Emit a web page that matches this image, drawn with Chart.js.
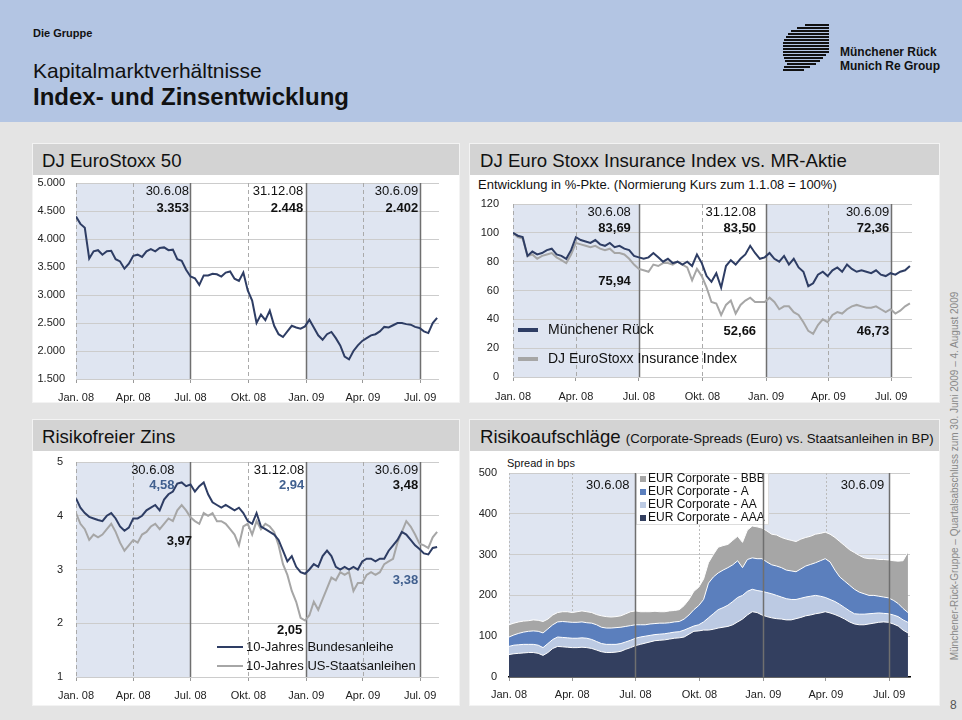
<!DOCTYPE html>
<html lang="de"><head><meta charset="utf-8">
<title>Index- und Zinsentwicklung</title>
<script src="https://cdn.jsdelivr.net/npm/chart.js@4.4.1/dist/chart.umd.min.js"></script>
<style>
html,body{margin:0;padding:0;}
body{width:962px;height:720px;background:#e4e4e4;position:relative;overflow:hidden;font-family:'Liberation Sans',Arial,sans-serif;color:#111;}
.hdr{position:absolute;left:0;top:0;width:962px;height:122px;background:#b3c5e3;}
.t{position:absolute;white-space:nowrap;line-height:1;}
.panel{position:absolute;background:#fff;box-sizing:border-box;border:1px solid #f3f3f3;}
.bar{position:absolute;left:0;top:0;right:0;height:31px;background:#d3d3d3;}
.ptitle{position:absolute;top:7px;font-size:18.6px;color:#111;white-space:nowrap;line-height:1.1;}
canvas{position:absolute;}
</style></head><body>
<div class="hdr"></div>
<div class="t" style="left:33px;top:28px;font-size:11px;font-weight:bold;">Die Gruppe</div>
<div class="t" style="left:33px;top:60px;font-size:21px;">Kapitalmarktverhältnisse</div>
<div class="t" style="left:33px;top:85px;font-size:24px;font-weight:bold;">Index- und Zinsentwicklung</div>
<svg style="position:absolute;left:780px;top:22px" width="54" height="54" viewBox="0 0 54 54">
<g stroke="#111" stroke-width="2">
<line x1="25" y1="3" x2="49" y2="3"/><line x1="17" y1="6" x2="49" y2="6"/><line x1="11" y1="9" x2="49" y2="9"/>
<line x1="8" y1="12" x2="49" y2="12"/><line x1="6" y1="15" x2="49" y2="15"/><line x1="4" y1="18" x2="49" y2="18"/>
<line x1="3" y1="21" x2="49" y2="21"/><line x1="3" y1="24" x2="49" y2="24"/><line x1="3" y1="27" x2="49" y2="27"/>
<line x1="3" y1="30" x2="49" y2="30"/><line x1="3" y1="33" x2="46" y2="33"/><line x1="4" y1="36" x2="43" y2="36"/>
<line x1="5" y1="39" x2="40" y2="39"/><line x1="7" y1="42" x2="36" y2="42"/><line x1="4" y1="45" x2="30" y2="45"/>
<line x1="3" y1="48" x2="24" y2="48"/>
</g></svg>
<div class="t" style="left:840px;top:46px;font-size:12px;font-weight:bold;">Münchener Rück</div>
<div class="t" style="left:840px;top:60px;font-size:12px;font-weight:bold;">Munich Re Group</div>

<div class="panel" style="left:32px;top:143px;width:428px;height:260px;"><div class="bar"></div><div class="ptitle" style="left:9px;">DJ EuroStoxx 50</div></div>
<div class="panel" style="left:469px;top:143px;width:471px;height:260px;"><div class="bar"></div><div class="ptitle" style="left:10px;">DJ Euro Stoxx Insurance Index vs. MR-Aktie</div></div>
<div class="panel" style="left:32px;top:419px;width:428px;height:287px;"><div class="bar"></div><div class="ptitle" style="left:9px;">Risikofreier Zins</div></div>
<div class="panel" style="left:469px;top:419px;width:471px;height:287px;"><div class="bar"></div><div class="ptitle" style="left:10px;">Risikoaufschläge <span style="font-size:13.2px">(Corporate-Spreads (Euro) vs. Staatsanleihen in BP)</span></div></div>

<div class="t" style="left:478px;top:178px;font-size:13px;color:#111;">Entwicklung in %-Pkte. (Normierung Kurs zum 1.1.08 = 100%)</div>
<div class="t" style="left:507px;top:458px;font-size:11px;color:#111;">Spread in bps</div>

<canvas id="c1" width="428" height="240" style="left:32px;top:163px;"></canvas>
<canvas id="c2" width="471" height="228" style="left:469px;top:175px;"></canvas>
<canvas id="c3" width="428" height="267" style="left:32px;top:439px;"></canvas>
<canvas id="c4" width="471" height="255" style="left:469px;top:451px;"></canvas>

<div class="t" style="left:755px;top:471px;width:400px;text-align:center;font-size:10px;color:#888;transform:rotate(-90deg);transform-origin:200px 5px;">Münchener-Rück-Gruppe – Quartalsabschluss zum 30. Juni 2009 – 4. August 2009</div>
<div class="t" style="left:950px;top:699px;font-size:12px;color:#555;">8</div>

<script>
// ---------- DATA ----------
const monthTickDays = [0, 91, 182, 274, 366, 456, 547];
const monthTickLabels = ['Jan. 08', 'Apr. 08', 'Jul. 08', 'Okt. 08', 'Jan. 09', 'Apr. 09', 'Jul. 09'];
const halfYearDays = [182, 366, 547];
const quarterDays = [0, 91, 274, 456];
const shadeRanges = [[0, 182], [366, 547]];
// weekly observations, days since 1.1.2008
const weekDays = Array.from({length: 83}, (_, i) => i * 7);

const refDates = ['30.6.08', '31.12.08', '30.6.09'];
const esxRef = ['3.353', '2.448', '2.402'];
const mrRef = ['83,69', '83,50', '72,36'];
const insRef = ['75,94', '52,66', '46,73'];
const bundRef = ['4,58', '2,94', '3,38'];
const usRef = ['3,97', '2,05', '3,48'];

const esx50 = [4400,4270,4200,3650,3780,3800,3720,3780,3790,3640,
3600,3470,3560,3700,3720,3680,3780,3820,3780,3840,
3850,3800,3810,3640,3610,3450,3330,3300,3180,3350,
3350,3380,3370,3330,3400,3420,3290,3250,3400,3080,
2900,2500,2650,2550,2720,2450,2300,2250,2350,2450,
2420,2400,2440,2560,2420,2280,2200,2300,2340,2230,
2100,1900,1850,2000,2100,2180,2230,2280,2300,2350,
2430,2420,2460,2500,2500,2480,2470,2430,2410,2350,
2320,2500,2590];

const muenchenerRueck = [100,98,97,84,87,85,86,88,89,85,
84,82,88,97,95,94,93,95,92,91,
93,90,91,89,88,84,83,82,83,86,
83,80,82,79,80,78,80,77,85,79,
70,66,72,62,77,81,78,82,85,91,
86,82,83,86,82,80,84,78,82,76,
73,63,65,71,73,70,74,76,73,78,
75,73,74,73,72,74,71,70,72,71,
73,74,77];

const insuranceIndex = [100,97,96,84,85,82,84,85,86,83,
81,79,85,93,92,91,90,91,89,88,
89,86,86,85,82,78,75,74,73,78,
77,79,79,78,80,78,76,67,75,70,
62,52,51,43,50,53,44,50,53,55,
52,52,52,55,52,47,49,49,45,43,
38,32,30,36,40,38,43,45,44,47,
49,50,49,48,48,49,47,45,47,44,
46,49,51];

const bund10y = [4.32,4.15,4.05,3.98,3.95,3.92,3.90,4.00,4.05,3.95,
3.80,3.72,3.78,3.95,3.95,4.00,4.10,4.15,4.20,4.10,
4.30,4.40,4.45,4.60,4.62,4.55,4.58,4.45,4.55,4.62,
4.40,4.25,4.20,4.15,4.20,4.15,4.10,4.15,4.05,3.90,
3.85,4.05,3.80,3.75,3.70,3.65,3.55,3.35,3.15,3.25,
3.05,2.95,2.92,3.00,3.10,3.05,3.25,3.35,3.25,3.05,
3.00,3.05,3.00,3.05,3.00,3.15,3.20,3.20,3.15,3.20,
3.20,3.35,3.45,3.55,3.70,3.65,3.55,3.45,3.38,3.30,
3.28,3.40,3.42];

const us10y = [4.05,3.85,3.75,3.55,3.65,3.60,3.65,3.75,3.85,3.70,
3.50,3.35,3.45,3.55,3.50,3.65,3.70,3.80,3.85,3.75,
3.85,3.95,3.90,4.10,4.20,4.10,3.97,3.90,3.85,4.05,
4.00,4.05,3.90,3.90,3.85,3.75,3.65,3.45,3.80,3.85,
3.65,3.90,3.75,3.85,3.80,3.70,3.45,3.10,2.90,2.60,
2.40,2.10,2.05,2.15,2.40,2.25,2.45,2.65,2.85,2.80,
2.95,2.90,2.95,2.60,2.75,2.75,2.90,2.95,2.90,2.95,
3.10,3.15,3.20,3.50,3.70,3.90,3.80,3.65,3.48,3.45,
3.40,3.60,3.70];

const spreadAAA = [55,57,58,59,60,60,58,53,60,70,
75,74,73,72,72,73,72,70,66,62,
60,60,61,63,68,72,77,80,83,86,
89,90,91,93,95,96,98,105,112,113,
115,115,117,120,122,124,128,135,142,152,
160,158,152,148,145,143,142,140,140,143,
146,150,152,155,157,160,157,153,148,142,
135,130,128,128,130,132,134,135,134,130,
125,115,108];
const spreadAA = [75,78,79,80,80,80,78,72,82,92,
98,97,96,95,95,96,95,92,87,82,
80,80,80,82,86,90,95,98,100,102,
104,105,106,108,110,111,115,120,125,128,
135,145,155,165,170,176,185,195,200,210,
215,212,210,207,204,200,196,192,190,190,
193,196,198,200,198,195,190,185,178,170,
162,155,154,154,155,156,157,156,155,152,
148,140,134];
const spreadA = [98,103,107,110,112,113,112,108,118,128,
135,136,135,134,134,135,133,132,128,122,
120,120,121,122,124,126,128,128,128,130,
131,132,132,133,135,136,142,152,165,175,
190,230,245,255,262,268,275,285,268,288,
292,290,290,282,275,272,268,262,260,258,
265,272,276,280,285,290,282,262,245,235,
225,215,208,204,200,200,198,196,194,188,
180,168,158];
const spreadBBB = [128,132,135,137,138,140,139,136,142,152,
158,160,160,158,160,162,160,158,153,150,
148,147,148,150,155,160,162,160,160,160,
161,160,160,162,163,165,175,190,210,220,
240,280,300,318,322,325,335,345,330,360,
370,368,365,358,350,348,342,338,335,332,
338,342,345,350,352,355,350,342,332,322,
312,305,298,292,290,290,288,288,287,285,
284,285,306];

// ---------- STYLE ----------
const FONT = "'Liberation Sans', Arial, sans-serif";
const NAVY = '#2e3d64', GREY = '#a6a6a6', SHADE = '#dfe5f1', BLUE_TXT = '#41608f';
Chart.defaults.font.family = FONT;
Chart.defaults.font.size = 11;
Chart.defaults.color = '#222';
Chart.defaults.animation = false;

const pts = arr => weekDays.map((d, i) => ({x: d, y: arr[i]}));
const fmtThousands = v => String(v).replace(/\B(?=(\d{3})+(?!\d))/g, '.');

function vlines(chart, days, color, dash, width) {
  const {ctx, chartArea: a, scales: {x}} = chart;
  ctx.save();
  ctx.strokeStyle = color; ctx.lineWidth = width; ctx.setLineDash(dash);
  days.forEach(d => {
    const px = Math.round(x.getPixelForValue(d)) + 0.5;
    ctx.beginPath(); ctx.moveTo(px, a.top); ctx.lineTo(px, a.bottom); ctx.stroke();
  });
  ctx.restore();
}
function txt(ctx, s, x, y, size, bold, color, align) {
  ctx.font = (bold ? 'bold ' : '') + size + 'px ' + FONT;
  ctx.fillStyle = color; ctx.textAlign = align || 'right'; ctx.textBaseline = 'middle';
  ctx.fillText(s, x, y);
}

const decor = {
  id: 'decor',
  beforeDraw(chart, args, o) {
    const {ctx, chartArea: a, scales: {x}} = chart;
    ctx.save(); ctx.fillStyle = SHADE;
    shadeRanges.forEach(([s, e]) => {
      const x1 = x.getPixelForValue(s), x2 = x.getPixelForValue(e);
      ctx.fillRect(x1, a.top, x2 - x1, a.bottom - a.top);
    });
    ctx.restore();
  },
  beforeDatasetsDraw(chart, args, o) {
    vlines(chart, quarterDays, o.dashColor, o.dash, 1);
    if (!o.solidOnTop) vlines(chart, halfYearDays, '#6f6f6f', [], 1.5);
  },
  afterDatasetsDraw(chart, args, o) {
    const {ctx, chartArea: a, scales: {x}} = chart;
    if (o.box) {
      ctx.save(); ctx.fillStyle = '#fff'; ctx.strokeStyle = '#dddddd'; ctx.lineWidth = 1;
      ctx.fillRect(a.left + o.box.x, a.top + o.box.y, o.box.w, o.box.h);
      ctx.strokeRect(a.left + o.box.x + 0.5, a.top + o.box.y + 0.5, o.box.w, o.box.h);
      const ds = chart.data.datasets.slice().reverse();
      ds.forEach((d, i) => {
        ctx.fillStyle = d.backgroundColor;
        ctx.fillRect(a.left + o.box.mx, a.top + o.box.rows[i] - 3, 6, 6);
        txt(ctx, d.label, a.left + o.box.tx, a.top + o.box.rows[i], o.box.size, false, '#111', 'left');
      });
      ctx.restore();
    }
    if (o.solidOnTop) vlines(chart, halfYearDays, '#6f6f6f', [], 1.5);
    ctx.save();
    (o.labels || []).forEach(l => {
      txt(ctx, l.text, x.getPixelForValue(l.day) + l.dx, a.top + l.dy, 13, l.bold, l.color || '#111');
    });
    if (o.lineLegend) {
      const L = o.lineLegend;
      chart.data.datasets.forEach((d, i) => {
        ctx.strokeStyle = d.borderColor; ctx.lineWidth = L.lw;
        ctx.beginPath(); ctx.moveTo(a.left + L.x0, a.top + L.rows[i]); ctx.lineTo(a.left + L.x1, a.top + L.rows[i]); ctx.stroke();
        txt(ctx, d.label, a.left + L.tx, a.top + L.rows[i], L.size, false, '#111', 'left');
      });
    }
    ctx.restore();
  }
};
Chart.register(decor);

function xScale(h, pad, border) {
  return {
    type: 'linear', min: 0, max: 577,
    afterBuildTicks: s => { s.ticks = monthTickDays.map(v => ({value: v})); },
    afterFit: s => { s.height = h; },
    ticks: {autoSkip: false, maxRotation: 0, padding: pad, color: '#222', font: {size: 11},
      callback: v => { const k = monthTickDays.indexOf(v); return k >= 0 ? monthTickLabels[k] : ''; }},
    grid: {drawOnChartArea: false, drawTicks: true, tickLength: 4, tickColor: '#999'},
    border: border ? {display: true, color: '#000', width: 1.5} : {display: false}
  };
}
function yScale(min, max, step, w, pad, cb) {
  return {
    min, max,
    afterFit: s => { s.width = w; },
    ticks: {stepSize: step, padding: pad, color: '#222', font: {size: 11}, callback: cb || (v => String(v))},
    grid: {color: '#cccccc', lineWidth: 1, drawTicks: false},
    border: {display: false}
  };
}
const basePlugins = {legend: {display: false}, tooltip: {enabled: false}};
const lineDs = (label, arr, color) => ({label, data: pts(arr), borderColor: color, backgroundColor: color, borderWidth: 2, pointRadius: 0, tension: 0, fill: false});

// Chart 1
new Chart(document.getElementById('c1'), {
  type: 'line',
  data: {datasets: [lineDs('DJ EuroStoxx 50', esx50, NAVY)]},
  options: {
    responsive: false, animation: false,
    layout: {padding: {left: 0, top: 20, right: 21, bottom: 0}},
    scales: {x: xScale(24, 8), y: yScale(1500, 5000, 500, 44, 11, fmtThousands)},
    plugins: {...basePlugins, decor: {dashColor: '#aaaaaa', dash: [4, 3], labels: [
      {day: 182, dx: -1.5, dy: 8.7, text: refDates[0]}, {day: 182, dx: -1.5, dy: 25.3, text: esxRef[0], bold: true},
      {day: 366, dx: -3, dy: 8.7, text: refDates[1]}, {day: 366, dx: -3, dy: 25.3, text: esxRef[1], bold: true},
      {day: 547, dx: -2, dy: 8.7, text: refDates[2]}, {day: 547, dx: -2, dy: 25.3, text: esxRef[2], bold: true}
    ]}}
  }
});

// Chart 2
new Chart(document.getElementById('c2'), {
  type: 'line',
  data: {datasets: [lineDs('Münchener Rück', muenchenerRueck, NAVY), lineDs('DJ EuroStoxx Insurance Index', insuranceIndex, GREY)]},
  options: {
    responsive: false, animation: false,
    layout: {padding: {left: 0, top: 29, right: 28, bottom: 0}},
    scales: {x: xScale(26, 9), y: yScale(0, 120, 20, 44, 14)},
    plugins: {...basePlugins, decor: {dashColor: '#aaaaaa', dash: [4, 3],
      lineLegend: {x0: 5, x1: 25, tx: 35, rows: [126, 155], lw: 4, size: 14},
      labels: [
      {day: 182, dx: -8, dy: 8, text: refDates[0]}, {day: 182, dx: -8, dy: 24.7, text: mrRef[0], bold: true}, {day: 182, dx: -8, dy: 77.7, text: insRef[0], bold: true},
      {day: 366, dx: -10, dy: 8, text: refDates[1]}, {day: 366, dx: -10, dy: 24.7, text: mrRef[1], bold: true}, {day: 366, dx: -10, dy: 127, text: insRef[1], bold: true},
      {day: 547, dx: -2, dy: 8, text: refDates[2]}, {day: 547, dx: -2, dy: 24.7, text: mrRef[2], bold: true}, {day: 547, dx: -2, dy: 127, text: insRef[2], bold: true}
    ]}}
  }
});

// Chart 3
new Chart(document.getElementById('c3'), {
  type: 'line',
  data: {datasets: [lineDs('10-Jahres Bundesanleihe', bund10y, NAVY), lineDs('10-Jahres US-Staatsanleihen', us10y, GREY)]},
  options: {
    responsive: false, animation: false,
    layout: {padding: {left: 0, top: 23, right: 21, bottom: 0}},
    scales: {x: xScale(29, 8), y: yScale(1, 5, 1, 44, 13)},
    plugins: {...basePlugins, decor: {dashColor: '#aaaaaa', dash: [4, 3],
      lineLegend: {x0: 141, x1: 167, tx: 170, rows: [185, 204], lw: 2, size: 13},
      labels: [
      {day: 182, dx: -16, dy: 8, text: refDates[0]}, {day: 182, dx: -16, dy: 23.7, text: bundRef[0], bold: true, color: BLUE_TXT}, {day: 182, dx: 1.5, dy: 79.7, text: usRef[0], bold: true},
      {day: 366, dx: -2, dy: 8, text: refDates[1]}, {day: 366, dx: -2, dy: 23.7, text: bundRef[1], bold: true, color: BLUE_TXT}, {day: 366, dx: -4, dy: 168.7, text: usRef[1], bold: true},
      {day: 547, dx: -2, dy: 8, text: refDates[2]}, {day: 547, dx: -2, dy: 23.7, text: usRef[2], bold: true}, {day: 547, dx: -2, dy: 118, text: bundRef[2], bold: true, color: BLUE_TXT}
    ]}}
  }
});

// Chart 4
const areaDs = (label, arr, color) => ({label, data: pts(arr), borderColor: '#ffffff', backgroundColor: color, borderWidth: 1, pointRadius: 0, tension: 0, fill: 'origin'});
new Chart(document.getElementById('c4'), {
  type: 'line',
  data: {datasets: [
    areaDs('EUR Corporate - AAA', spreadAAA, '#333f5f'),
    areaDs('EUR Corporate - AA', spreadAA, '#bccae3'),
    areaDs('EUR Corporate - A', spreadA, '#5b7fbd'),
    areaDs('EUR Corporate - BBB', spreadBBB, '#a6a6a6')
  ]},
  options: {
    responsive: false, animation: false,
    layout: {padding: {left: 0, top: 22, right: 30, bottom: 0}},
    scales: {x: xScale(29, 7, true), y: yScale(0, 500, 100, 40, 12)},
    plugins: {...basePlugins, filler: {propagate: false}, decor: {dashColor: '#bbbbbb', dash: [2, 2], solidOnTop: true,
      box: {x: 127, y: 0, w: 132, h: 51, mx: 131, tx: 139, rows: [6, 19, 32, 45], size: 12},
      labels: [
      {day: 182, dx: -6, dy: 12.7, text: refDates[0]},
      {day: 547, dx: -5, dy: 12.7, text: refDates[2]}
    ]}}
  }
});
</script>
</body></html>
